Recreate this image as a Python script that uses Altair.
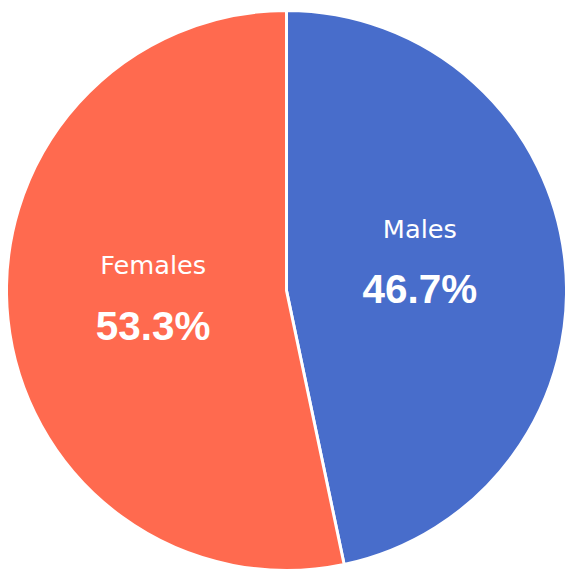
import altair as alt
import pandas as pd

categories = ["Males", "Females"]
shares = [46.7, 53.3]
pct_labels = ["46.7%", "53.3%"]
colors = ["#486DCB", "#FF6A4F"]

df = pd.DataFrame({"group": categories, "share": shares, "pct": pct_labels,
                   "order": [0, 1]})

base = alt.Chart(df).encode(
    theta=alt.Theta("share:Q", stack=True),
    order=alt.Order("order:Q"),
)

pie = base.mark_arc(stroke="white", strokeWidth=3, radius=284).encode(
    color=alt.Color("group:N", scale=alt.Scale(domain=categories, range=colors), legend=None)
)

def labels(group, dy_name, dy_pct):
    sel = alt.datum.group == group
    n = base.mark_text(radius=136, dy=dy_name, font="DejaVu Sans", fontSize=26,
                       color="white").encode(
        text=alt.condition(sel, "group:N", alt.value("")))
    p = base.mark_text(radius=136, dy=dy_pct, font="Liberation Sans", fontSize=41,
                       fontWeight="bold", color="white").encode(
        text=alt.condition(sel, "pct:N", alt.value("")))
    return n + p

chart = (pie + labels("Males", -47, 15) + labels("Females", -39, 24)).properties(
    width=565, height=565,
    autosize=alt.AutoSizeParams(type="fit", contains="padding"),
    padding=0,
).configure_view(stroke=None)

chart.save("out.html", embed_options={"renderer": "svg", "actions": False})
